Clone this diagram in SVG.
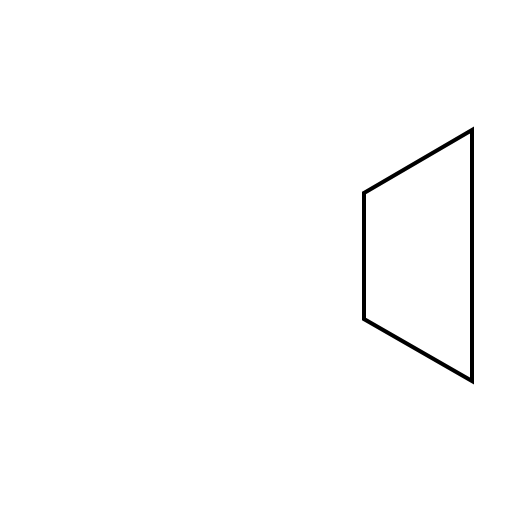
<svg xmlns="http://www.w3.org/2000/svg" width="512" height="512" viewBox="0 0 512 512">
<rect width="512" height="512" fill="#fff"/>
<g id="shape">
<polygon points="364,193 472,130 472,381 364,319" fill="none" stroke="#000" stroke-width="4"/>
</g>
</svg>
